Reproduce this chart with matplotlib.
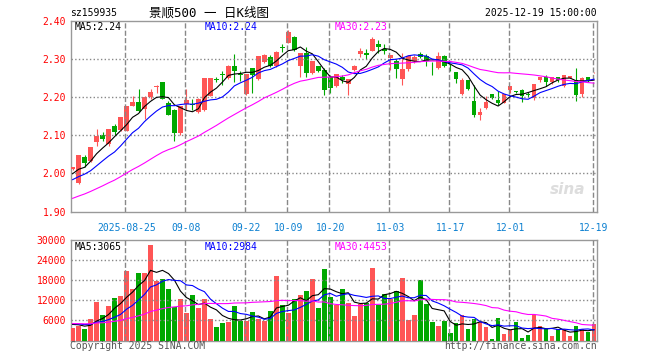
import matplotlib
matplotlib.use("Agg")
import matplotlib.pyplot as plt
import pandas as pd

# visible candles 2025-08-12 .. 2025-12-19 (index 0..87)
opens = [2.011, 1.975, 2.044, 2.033, 2.083, 2.101, 2.077, 2.125, 2.114, 2.112,
         2.177, 2.188, 2.170, 2.200, 2.227, 2.239, 2.185, 2.167, 2.105, 2.182,
         2.181, 2.162, 2.167, 2.204, 2.248, 2.260, 2.250, 2.282, 2.262, 2.208,
         2.276, 2.248, 2.292, 2.306, 2.282, 2.331, 2.342, 2.359, 2.281, 2.317,
         2.263, 2.281, 2.272, 2.254, 2.230, 2.252, 2.234, 2.272, 2.313, 2.317,
         2.320, 2.340, 2.327, 2.303, 2.296, 2.248, 2.275, 2.294, 2.313, 2.307,
         2.277, 2.276, 2.309, 2.279, 2.266, 2.208, 2.246, 2.190, 2.152, 2.171,
         2.208, 2.193, 2.186, 2.218, 2.216, 2.219, 2.209, 2.197, 2.246, 2.254,
         2.241, 2.253, 2.230, 2.250, 2.246, 2.208, 2.252, 2.265]
highs = [2.018, 2.049, 2.048, 2.070, 2.116, 2.109, 2.117, 2.130, 2.148, 2.177,
         2.203, 2.222, 2.202, 2.222, 2.232, 2.239, 2.190, 2.168, 2.178, 2.221,
         2.196, 2.198, 2.250, 2.250, 2.254, 2.268, 2.284, 2.313, 2.268, 2.262,
         2.276, 2.309, 2.313, 2.310, 2.320, 2.339, 2.377, 2.361, 2.317, 2.331,
         2.296, 2.283, 2.276, 2.259, 2.262, 2.257, 2.247, 2.284, 2.329, 2.327,
         2.357, 2.350, 2.340, 2.311, 2.299, 2.317, 2.310, 2.310, 2.318, 2.313,
         2.293, 2.318, 2.310, 2.287, 2.266, 2.250, 2.246, 2.232, 2.171, 2.204,
         2.208, 2.215, 2.209, 2.230, 2.216, 2.222, 2.214, 2.234, 2.254, 2.257,
         2.252, 2.253, 2.259, 2.256, 2.276, 2.252, 2.252, 2.267]
lows = [2.009, 1.972, 2.016, 2.030, 2.072, 2.086, 2.073, 2.100, 2.112, 2.110,
        2.176, 2.160, 2.142, 2.195, 2.211, 2.196, 2.152, 2.086, 2.100, 2.166,
        2.166, 2.158, 2.164, 2.202, 2.241, 2.231, 2.248, 2.241, 2.243, 2.206,
        2.211, 2.245, 2.290, 2.278, 2.280, 2.318, 2.342, 2.322, 2.254, 2.254,
        2.261, 2.265, 2.206, 2.211, 2.228, 2.236, 2.206, 2.268, 2.305, 2.301,
        2.320, 2.316, 2.313, 2.272, 2.250, 2.232, 2.270, 2.290, 2.303, 2.283,
        2.259, 2.275, 2.278, 2.269, 2.236, 2.205, 2.219, 2.147, 2.141, 2.169,
        2.196, 2.180, 2.185, 2.211, 2.212, 2.188, 2.200, 2.192, 2.239, 2.230,
        2.234, 2.240, 2.226, 2.250, 2.190, 2.201, 2.241, 2.264]
closes = [2.016, 2.048, 2.026, 2.070, 2.098, 2.090, 2.116, 2.108, 2.147, 2.177,
          2.188, 2.165, 2.201, 2.214, 2.230, 2.196, 2.154, 2.105, 2.178, 2.193,
          2.179, 2.194, 2.250, 2.250, 2.246, 2.258, 2.282, 2.268, 2.257, 2.262,
          2.257, 2.307, 2.311, 2.282, 2.318, 2.329, 2.371, 2.324, 2.317, 2.263,
          2.294, 2.268, 2.218, 2.224, 2.261, 2.245, 2.247, 2.282, 2.322, 2.310,
          2.354, 2.331, 2.322, 2.311, 2.273, 2.275, 2.307, 2.306, 2.306, 2.294,
          2.276, 2.307, 2.281, 2.278, 2.248, 2.246, 2.221, 2.152, 2.161, 2.187,
          2.199, 2.185, 2.208, 2.230, 2.214, 2.202, 2.207, 2.234, 2.254, 2.241,
          2.252, 2.245, 2.257, 2.256, 2.206, 2.250, 2.246, 2.266]
volumes = [3700, 4300, 3300, 6300, 11400, 7500, 10300, 12600, 13300, 20700,
           15300, 20100, 20100, 28500, 17700, 18300, 15300, 10100, 12300, 8100,
           13500, 9600, 12300, 6300, 4000, 5100, 5400, 10200, 5900, 5800,
           8400, 6300, 5900, 8700, 19200, 10700, 8100, 12300, 13500, 14700,
           18300, 9600, 21300, 12900, 10700, 15300, 11100, 7300, 10800, 11300,
           21700, 10700, 13800, 12500, 14700, 18700, 6000, 7500, 18000, 10800,
           5500, 4200, 5700, 2200, 5200, 7500, 3300, 6500, 5500, 3900,
           300, 6600, 1900, 3200, 5400, 600, 1600, 7700, 4300, 3300,
           1300, 3300, 3300, 1300, 4200, 3300, 2500, 4800]

# earlier sessions, only used to start the moving averages
prev_closes = [1.87, 1.86, 1.87, 1.88, 1.87, 1.88, 1.89, 1.88, 1.89,
               1.91, 1.92, 1.93, 1.92, 1.94, 1.93, 1.95, 1.94, 1.96, 1.95,
               1.96, 1.97, 1.96, 1.98, 1.97, 1.96, 1.99, 2.00, 1.99, 2.00]
prev_volumes = [5200, 4800, 5600, 4900, 5300, 4700, 5100, 5500, 4600, 5000,
                5400, 4800, 5200, 4900, 5300, 5000, 4700, 5600, 5100, 4800,
                5500, 5200, 4900, 5600, 5300, 4800, 5400, 5000, 5100]

tick_pos = [9, 19, 29, 36, 43, 53, 63, 73, 87]
tick_labels = ['2025-08-25', '09-08', '09-22', '10-09', '10-20',
               '11-03', '11-17', '12-01', '12-19']
price_ticks = [1.90, 2.00, 2.10, 2.20, 2.30, 2.40]
vol_ticks = [6000, 12000, 18000, 24000, 30000]

RED = '#ff5555'
GREEN = '#00a800'
FRAME = '#999999'
GRID = '#888888'
MONO = 'DejaVu Sans Mono'

n = len(closes)
x = list(range(n))
cols = [RED if c >= o else GREEN for o, c in zip(opens, closes)]

all_close = pd.Series(prev_closes + closes)
all_vol = pd.Series(prev_volumes + volumes)
k = len(prev_closes)
ma = {p: all_close.rolling(p).mean().iloc[k:].values for p in (5, 10, 30)}
vma = {p: all_vol.rolling(p).mean().iloc[k:].values for p in (5, 10, 30)}
ma_cols = {5: 'black', 10: '#0000ff', 30: '#ff00ff'}

W, H = 660, 360
fig = plt.figure(figsize=(6.6, 3.6), dpi=100)


def fx(px):
    return px / W


def fy(py):
    return 1 - py / H


L, R = 70.8, 597
ax = fig.add_axes([fx(L), fy(211.5), fx(R - L), (211.5 - 21) / H])
axv = fig.add_axes([fx(L), fy(340.5), fx(R - L), (340.5 - 240) / H])

# candles
ax.vlines(x, lows, highs, colors=cols, linewidth=0.8, zorder=3)
bodies = [max(abs(c - o), 0.0012) for o, c in zip(opens, closes)]
ax.bar(x, bodies, bottom=[min(o, c) for o, c in zip(opens, closes)],
       width=0.78, color=cols, linewidth=0, zorder=3)

# volume
axv.bar(x, volumes, width=0.78, color=cols, linewidth=0, zorder=3)

# grid: dashed verticals at the date ticks, dotted horizontals
for a in (ax, axv):
    for t in tick_pos:
        a.axvline(t - 0.25, color=GRID, linewidth=1.0, linestyle='--',
                  zorder=5)
for v in price_ticks[1:-1]:
    ax.axhline(v, color=GRID, linewidth=1.0, linestyle=':', zorder=5)
for v in vol_ticks[:-1]:
    axv.axhline(v, color=GRID, linewidth=1.0, linestyle=':', zorder=5)

# moving averages
for p in (5, 10, 30):
    ax.plot(x, ma[p], color=ma_cols[p], lw=0.8, zorder=7)
    axv.plot(x, vma[p], color=ma_cols[p], lw=0.8, zorder=7)

for a in (ax, axv):
    a.set_xlim(-0.3, 87.5)
    for s in a.spines.values():
        s.set_color(FRAME)
        s.set_linewidth(1.0)
    a.tick_params(length=0, pad=3.5)

ax.set_ylim(1.90, 2.40)
ax.set_yticks(price_ticks)
ax.set_yticklabels(['%.2f' % v for v in price_ticks], color='red',
                   family=MONO, fontsize=7)
ax.set_xticks(tick_pos)
ax.set_xticklabels(tick_labels, color='#0a7fd0', family=MONO, fontsize=7)
ax.tick_params(axis='x', pad=8)

axv.set_ylim(0, 30000)
axv.set_yticks(vol_ticks)
axv.set_yticklabels([str(v) for v in vol_ticks], color='red',
                    family=MONO, fontsize=7)
axv.set_xticks([])

# header texts
fig.text(fx(70), fy(13), 'sz159935', family=MONO, fontsize=7,
         va='center', ha='left')
fig.text(fx(209), fy(13), '景顺500 一 日K线图',
         family=[MONO, 'Noto Sans CJK SC'], fontsize=9, va='center', ha='center')
fig.text(fx(597), fy(13), '2025-12-19 15:00:00', family=MONO, fontsize=7,
         va='center', ha='right')

fig.text(fx(75), fy(27), 'MA5:2.24', family=MONO, fontsize=7, va='center')
fig.text(fx(205), fy(27), 'MA10:2.24', family=MONO, fontsize=7, va='center',
         color='#0000ff')
fig.text(fx(335), fy(27), 'MA30:2.23', family=MONO, fontsize=7, va='center',
         color='#ff00ff')
fig.text(fx(75), fy(247), 'MA5:3065', family=MONO, fontsize=7, va='center')
fig.text(fx(205), fy(247), 'MA10:2984', family=MONO, fontsize=7, va='center',
         color='#0000ff')
fig.text(fx(335), fy(247), 'MA30:4453', family=MONO, fontsize=7, va='center',
         color='#ff00ff')

fig.text(fx(70), fy(346), 'Copyright 2025 SINA.COM', family=MONO, fontsize=7,
         va='center', color='#555555')
fig.text(fx(597), fy(346), 'http://finance.sina.com.cn', family=MONO,
         fontsize=7, va='center', ha='right', color='#555555')
fig.text(fx(568), fy(190), 'sina', fontsize=11, weight='bold', style='italic',
         color='#dddddd', ha='center', va='center')

fig.savefig('out.png', dpi=100)
